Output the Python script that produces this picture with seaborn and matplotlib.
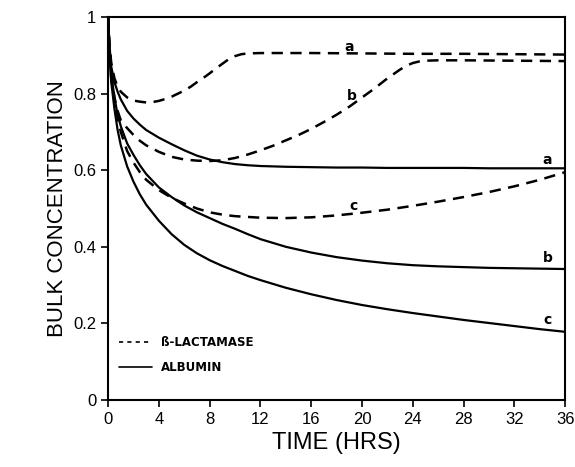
import seaborn as sns
import matplotlib.pyplot as plt
from matplotlib.lines import Line2D

# albumin curves (solid)
t_alb = [0, 0.1, 0.25, 0.5, 0.75, 1, 1.5, 2, 2.5, 3, 4, 5, 6, 7, 8, 9, 10, 11, 12, 14,
         16, 18, 20, 22, 24, 26, 28, 30, 32, 34, 36]
alb_a = [1.0, 0.93, 0.87, 0.83, 0.805, 0.785, 0.755, 0.735, 0.719, 0.705, 0.685, 0.668,
         0.652, 0.638, 0.628, 0.621, 0.616, 0.613, 0.611, 0.609, 0.608, 0.607, 0.607,
         0.606, 0.606, 0.606, 0.606, 0.605, 0.605, 0.605, 0.605]
alb_b = [1.0, 0.91, 0.85, 0.79, 0.745, 0.715, 0.67, 0.64, 0.613, 0.59, 0.555, 0.53,
         0.508, 0.49, 0.475, 0.46, 0.447, 0.433, 0.42, 0.40, 0.385, 0.373, 0.364, 0.357,
         0.352, 0.349, 0.347, 0.345, 0.344, 0.343, 0.342]
alb_c = [1.0, 0.9, 0.83, 0.76, 0.705, 0.665, 0.61, 0.57, 0.537, 0.51, 0.468, 0.433,
         0.405, 0.383, 0.365, 0.35, 0.337, 0.324, 0.313, 0.293, 0.276, 0.261, 0.248,
         0.237, 0.227, 0.218, 0.209, 0.201, 0.193, 0.185, 0.178]

# beta-lactamase curves (dashed)
t_lac_a = [0, 0.1, 0.25, 0.5, 0.75, 1, 1.5, 2, 2.5, 3, 3.5, 4, 4.5, 5, 5.5, 6, 6.5, 7,
           7.5, 8, 8.5, 9, 9.5, 10, 10.5, 11, 12, 16, 20, 24, 28, 32, 36]
lac_a = [1.0, 0.93, 0.88, 0.84, 0.818, 0.805, 0.79, 0.782, 0.779, 0.777, 0.778, 0.781,
         0.786, 0.792, 0.8, 0.808, 0.818, 0.83, 0.841, 0.853, 0.866, 0.878, 0.89, 0.898,
         0.903, 0.905, 0.906, 0.906, 0.905, 0.904, 0.904, 0.903, 0.902]
t_lac_b = [0, 0.1, 0.25, 0.5, 0.75, 1, 1.5, 2, 2.5, 3, 4, 5, 6, 7, 8, 9, 10, 11, 12, 13,
           14, 15, 16, 17, 18, 19, 20, 21, 22, 23, 23.5, 24, 24.5, 25, 26, 28, 32, 36]
lac_b = [1.0, 0.92, 0.85, 0.79, 0.755, 0.73, 0.71, 0.692, 0.677, 0.665, 0.648, 0.635,
         0.628, 0.625, 0.624, 0.626, 0.632, 0.641, 0.652, 0.664, 0.678, 0.692, 0.708,
         0.726, 0.745, 0.766, 0.79, 0.814, 0.84, 0.863, 0.873, 0.88, 0.884, 0.886,
         0.887, 0.887, 0.886, 0.885]
t_lac_c = [0, 0.1, 0.25, 0.5, 0.75, 1, 1.5, 2, 2.5, 3, 4, 5, 6, 7, 8, 9, 10, 12, 14, 16,
           18, 20, 22, 24, 26, 28, 30, 32, 34, 36]
lac_c = [1.0, 0.91, 0.84, 0.78, 0.735, 0.7, 0.65, 0.62, 0.595, 0.575, 0.548, 0.528,
         0.513, 0.5, 0.49, 0.484, 0.48, 0.476, 0.475, 0.477, 0.482, 0.489, 0.497, 0.507,
         0.518, 0.53, 0.543, 0.558, 0.575, 0.595]

# curve letters: (text, x, y)
labels = [("a", 19.0, 0.922), ("b", 19.2, 0.793), ("c", 19.3, 0.507),
          ("a", 34.6, 0.627), ("b", 34.6, 0.372), ("c", 34.6, 0.208)]

xticks = [0, 4, 8, 12, 16, 20, 24, 28, 32, 36]
yticks = [0, 0.2, 0.4, 0.6, 0.8, 1]
yticklabels = ["0", "0.2", "0.4", "0.6", "0.8", "1"]

sns.set_style("ticks")
plt.rcParams['font.family'] = ['Liberation Sans', 'DejaVu Sans']
plt.rcParams['text.color'] = 'black'
plt.rcParams['axes.labelcolor'] = 'black'

fig = plt.figure(figsize=(5.75, 4.67), dpi=100)
ax = fig.add_axes([0.188, 0.1435, 0.795, 0.82])

for y in (alb_a, alb_b, alb_c):
    sns.lineplot(x=t_alb, y=y, ax=ax, color="black", linewidth=1.6)
for t, y in ((t_lac_a, lac_a), (t_lac_b, lac_b), (t_lac_c, lac_c)):
    sns.lineplot(x=t, y=y, ax=ax, color="black", linewidth=1.8, linestyle=(0, (4.5, 3)))

for txt, x, y in labels:
    ax.text(x, y, txt, fontsize=10, fontweight="bold", ha="center", va="center",
            family=["DejaVu Sans"])

ax.set_xlim(0, 36)
ax.set_ylim(0, 1)
ax.set_xticks(xticks)
ax.set_xticklabels([str(v) for v in xticks])
ax.set_yticks(yticks)
ax.set_yticklabels(yticklabels)
ax.tick_params(direction="out", length=5, width=1.2, labelsize=12, colors="black")
for s in ax.spines.values():
    s.set_linewidth(1.5)
    s.set_color("black")

ax.set_xlabel("TIME (HRS)", fontsize=17)
ax.set_ylabel("BULK CONCENTRATION", fontsize=16)

handles = [Line2D([], [], color="black", linewidth=1.2, linestyle=(0, (2.5, 2.5))),
           Line2D([], [], color="black", linewidth=1.2)]
leg = ax.legend(handles, ["ß-LACTAMASE", "ALBUMIN"], loc="lower left",
                bbox_to_anchor=(0.0, 0.04), frameon=False, handlelength=2.8,
                prop={"family": "DejaVu Sans", "weight": "bold", "size": 8.5},
                labelspacing=1.0)
for txt in leg.get_texts():
    txt.set_color("black")

fig.savefig("out.png", dpi=100)
